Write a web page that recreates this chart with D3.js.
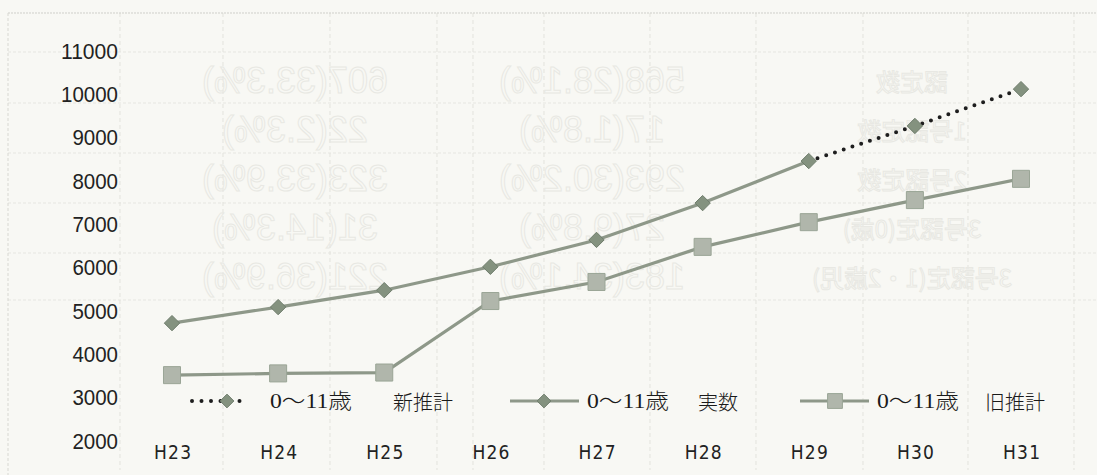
<!DOCTYPE html>
<html>
<head>
<meta charset="utf-8">
<script src="https://cdn.jsdelivr.net/npm/d3@7"></script>
<style>
  html, body { margin: 0; padding: 0; background: #f8f8f4; }
  svg { display: block; }
</style>
</head>
<body>
<svg id="chart" width="1097" height="475"></svg>
<script>
// Fiscal years (Heisei) on the category axis
const years = ["H23", "H24", "H25", "H26", "H27", "H28", "H29", "H30", "H31"];
// Children aged 0–11: actual counts (H23–H29)
const actualCounts = [4720, 5090, 5480, 6020, 6640, 7490, 8460, null, null];
// New projection (continues from the last actual value)
const newProjection = [null, null, null, null, null, null, 8460, 9270, 10120];
// Old projection
const oldProjection = [3520, 3560, 3580, 5230, 5670, 6480, 7050, 7560, 8050];
// Value axis ticks
const yTicks = [2000, 3000, 4000, 5000, 6000, 7000, 8000, 9000, 10000, 11000];
// Legend entries: age band and series name
const legendAge = ["0～11歳", "0～11歳", "0～11歳"];
const legendNames = ["新推計", "実数", "旧推計"];

// Faint table printed on the reverse side of the sheet (shows through mirrored)
const backRows = [
  ["607(33.3%)", "568(28.1%)", "認定数"],
  ["22(2.3%)", "17(1.8%)", "1号認定数"],
  ["323(33.9%)", "293(30.2%)", "2号認定数"],
  ["31(14.3%)", "27(9.8%)", "3号認定(0歳)"],
  ["221(36.9%)", "183(34.1%)", "3号認定(1・2歳児)"]
];

const svg = d3.select("#chart");

// ---- reverse-side show-through ----
const ghost = svg.append("g").attr("class", "ghost");
const ghostRowsY = [52, 103, 153, 203, 253, 300];
ghost.selectAll("line.gh")
  .data(ghostRowsY)
  .join("line")
  .attr("x1", 8).attr("x2", 1097)
  .attr("y1", d => d).attr("y2", d => d)
  .attr("stroke", "#e6e6e1").attr("stroke-width", 1)
  .attr("stroke-dasharray", "3 2");
const ghostColsX = [120, 223, 330, 437, 473, 544, 650, 756, 863, 968, 1074];
ghost.selectAll("line.gv")
  .data(ghostColsX)
  .join("line")
  .attr("x1", d => d).attr("x2", d => d)
  .attr("y1", 13).attr("y2", 470)
  .attr("stroke", "#e3e3dd").attr("stroke-width", 1)
  .attr("stroke-dasharray", "4 3");
const ghostColCenters = [295, 592, 912];
backRows.forEach((row, i) => {
  const cy = 80 + i * 49;
  row.forEach((txt, j) => {
    ghost.append("text")
      .attr("transform", `translate(${ghostColCenters[j]},${cy}) scale(-1,1)`)
      .attr("text-anchor", "middle")
      .attr("dominant-baseline", "central")
      .attr("font-family", j === 2 ? "'Noto Sans CJK JP', sans-serif" : "'Liberation Sans', Arial, sans-serif")
      .attr("font-size", j === 2 ? 24 : 36)
      .attr("fill", "none")
      .attr("stroke", "#e8e8e3")
      .attr("stroke-width", 1)
      .text(txt);
  });
});

// chart frame
svg.append("line").attr("x1", 8).attr("x2", 1097).attr("y1", 13).attr("y2", 13)
  .attr("stroke", "#cfcfca").attr("stroke-width", 1).attr("stroke-dasharray", "2 1");
svg.append("line").attr("x1", 8).attr("x2", 8).attr("y1", 13).attr("y2", 475)
  .attr("stroke", "#d8d8d2").attr("stroke-width", 1).attr("stroke-dasharray", "3 2");

// ---- scales ----
const x = d3.scalePoint().domain(years).range([172, 1021]);
const y = d3.scaleLinear().domain([2000, 11000]).range([441, 51]);

// ---- axes (labels only) ----
const yAxis = svg.append("g")
  .attr("transform", "translate(118,0)")
  .call(d3.axisLeft(y).tickValues(yTicks).tickSize(0).tickPadding(0).tickFormat(d3.format("d")));
yAxis.select(".domain").remove();
yAxis.selectAll("text")
  .attr("font-family", "'Liberation Sans', Arial, sans-serif")
  .attr("font-size", 22)
  .attr("fill", "#222")
  .attr("textLength", d => String(d).length * 11.4)
  .attr("lengthAdjust", "spacingAndGlyphs");

const xAxis = svg.append("g")
  .attr("transform", "translate(0,452)")
  .call(d3.axisBottom(x).tickSize(0).tickPadding(0));
xAxis.select(".domain").remove();
xAxis.selectAll("text")
  .attr("dy", "0.35em")
  .attr("font-family", "'DejaVu Sans Condensed', 'Liberation Sans Narrow', 'Liberation Sans', sans-serif")
  .attr("font-stretch", "condensed")
  .attr("font-size", 19)
  .attr("fill", "#222")
  .attr("textLength", 37)
  .attr("lengthAdjust", "spacing");

// ---- series ----
const lineColor = "#8e9889";
const diamondFill = "#84927f";
const squareFill = "#b0b6ab";

const pts = arr => years.map((yr, i) => ({ yr, v: arr[i] })).filter(d => d.v != null);
const lineGen = d3.line().x(d => x(d.yr)).y(d => y(d.v));

// old projection (squares)
svg.append("path").datum(pts(oldProjection))
  .attr("d", lineGen).attr("fill", "none")
  .attr("stroke", lineColor).attr("stroke-width", 3.2);
// actual (diamonds)
svg.append("path").datum(pts(actualCounts))
  .attr("d", lineGen).attr("fill", "none")
  .attr("stroke", lineColor).attr("stroke-width", 3.2);
// new projection (dotted)
svg.append("path").datum(pts(newProjection))
  .attr("d", lineGen).attr("fill", "none")
  .attr("stroke", "#1e1e1e").attr("stroke-width", 4)
  .attr("stroke-linecap", "round").attr("stroke-dasharray", "0 9.2");

const diamond = d3.symbol().type(d3.symbolDiamond2).size(150);
const square = d3.symbol().type(d3.symbolSquare).size(290);

svg.append("g").selectAll("path")
  .data(pts(oldProjection))
  .join("path")
  .attr("transform", d => `translate(${x(d.yr)},${y(d.v)})`)
  .attr("d", square)
  .attr("fill", squareFill).attr("stroke", "#9aa596").attr("stroke-width", 1);

const diamondPts = pts(actualCounts).concat(pts(newProjection).slice(1));
svg.append("g").selectAll("path")
  .data(diamondPts)
  .join("path")
  .attr("transform", d => `translate(${x(d.yr)},${y(d.v)})`)
  .attr("d", diamond)
  .attr("fill", diamondFill).attr("stroke", "#6e7c6b").attr("stroke-width", 1);

// ---- legend ----
const legend = svg.append("g").attr("class", "legend");
const legendItems = [
  { x0: 192, x1: 248, mark: 227, age: 270, name: 393, kind: "new" },
  { x0: 510, x1: 579, mark: 544, age: 587, name: 698, kind: "actual" },
  { x0: 800, x1: 869, mark: 835, age: 877, name: 985, kind: "old" }
];
const ly = 401;
legendItems.forEach((it, i) => {
  if (it.kind === "new") {
    legend.append("line")
      .attr("x1", it.x0).attr("x2", it.x1).attr("y1", ly).attr("y2", ly)
      .attr("stroke", "#1e1e1e").attr("stroke-width", 4)
      .attr("stroke-linecap", "round").attr("stroke-dasharray", "0 9.5");
  } else {
    legend.append("line")
      .attr("x1", it.x0).attr("x2", it.x1).attr("y1", ly).attr("y2", ly)
      .attr("stroke", lineColor).attr("stroke-width", 3);
  }
  legend.append("path")
    .attr("transform", `translate(${it.mark},${ly})`)
    .attr("d", it.kind === "old" ? d3.symbol().type(d3.symbolSquare).size(220)()
                                 : d3.symbol().type(d3.symbolDiamond2).size(120)())
    .attr("fill", it.kind === "old" ? squareFill : diamondFill)
    .attr("stroke", it.kind === "old" ? "#9aa596" : "#6e7c6b").attr("stroke-width", 1);
  legend.append("text")
    .attr("x", it.age).attr("y", ly)
    .attr("dominant-baseline", "central")
    .attr("font-family", "'Liberation Serif', 'Noto Sans CJK JP', serif")
    .attr("font-size", 21)
    .attr("font-weight", 300)
    .attr("fill", "#1a1a1a")
    .attr("textLength", 82)
    .attr("lengthAdjust", "spacingAndGlyphs")
    .text(legendAge[i]);
  legend.append("text")
    .attr("x", it.name).attr("y", ly)
    .attr("dominant-baseline", "central")
    .attr("font-family", "'Noto Sans CJK JP', serif")
    .attr("font-size", 20)
    .attr("font-weight", 300)
    .attr("fill", "#1a1a1a")
    .text(legendNames[i]);
});
</script>
</body>
</html>
